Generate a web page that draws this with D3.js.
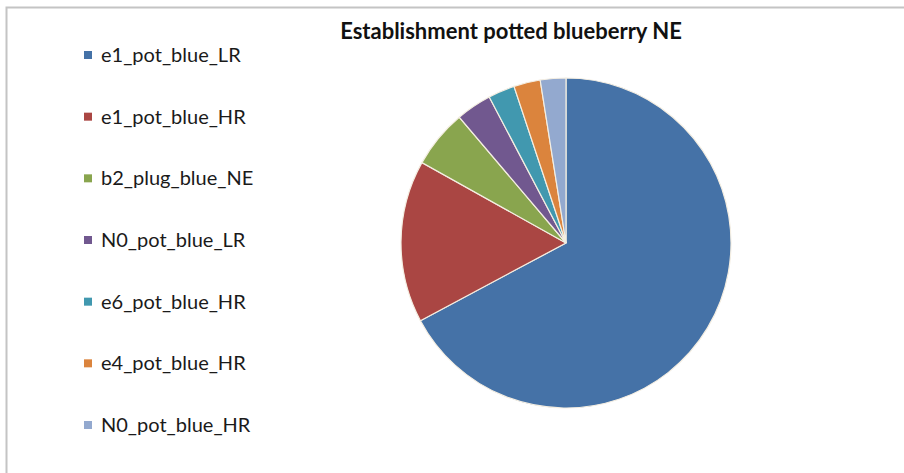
<!DOCTYPE html>
<html>
<head>
<meta charset="utf-8">
<script src="https://cdn.jsdelivr.net/npm/d3@7"></script>
<style>
  body { margin: 0; background: #fff; }
  svg { display: block; }
</style>
</head>
<body>
<div id="chart"></div>
<script>
/* DATA */
const categories = ["e1_pot_blue_LR", "e1_pot_blue_HR", "b2_plug_blue_NE", "N0_pot_blue_LR",
  "e6_pot_blue_HR", "e4_pot_blue_HR", "N0_pot_blue_HR"];
const values = [67.2, 15.9, 5.7, 3.5, 2.6, 2.6, 2.5];
const colors = ["#4572A7", "#AA4643", "#89A54E", "#71588F", "#4198AF", "#DB843D", "#93A9CF"];
const title = "Establishment potted blueberry NE";

/* CONSTANTS */
const width = 904, height = 473,
  center = { x: 566, y: 243 },
  radius = 165;

const svg = d3.select("#chart")
  .append("svg")
  .attr("width", width)
  .attr("height", height);

// chart frame
svg.append("path")
  .attr("d", `M6.5,${height} V7.5 H${width}`)
  .attr("fill", "none")
  .attr("stroke", "#c4c4c4")
  .attr("stroke-width", 2);

svg.append("text")
  .attr("x", 511)
  .attr("y", 39)
  .attr("text-anchor", "middle")
  .attr("font-family", "Lato")
  .attr("font-weight", "bold")
  .attr("font-size", 22)
  .attr("fill", "#111")
  .text(title);

const data = categories.map((c, i) => ({ name: c, value: values[i], color: colors[i] }));

const pie = d3.pie().sort(null).value(d => d.value);
const arc = d3.arc().innerRadius(0).outerRadius(radius);

svg.append("g")
  .attr("transform", `translate(${center.x}, ${center.y})`)
  .selectAll("path.slice")
  .data(pie(data))
  .join("path")
  .attr("class", "slice")
  .attr("d", arc)
  .attr("fill", d => d.data.color)
  .attr("stroke", "#f4eee2")
  .attr("stroke-width", 1.2);

// legend
const legendY = d3.scalePoint()
  .domain(categories)
  .range([55, 425]);

const legend = svg.selectAll("g.legend")
  .data(data)
  .join("g")
  .attr("class", "legend")
  .attr("transform", d => `translate(84, ${legendY(d.name)})`);

legend.append("rect")
  .attr("x", 0)
  .attr("y", -4)
  .attr("width", 8)
  .attr("height", 8)
  .attr("fill", d => d.color);

legend.append("text")
  .attr("x", 17)
  .attr("y", 7)
  .attr("font-family", "Lato")
  .attr("font-size", 20)
  .attr("fill", "#1a1a1a")
  .text(d => d.name);
</script>
</body>
</html>
